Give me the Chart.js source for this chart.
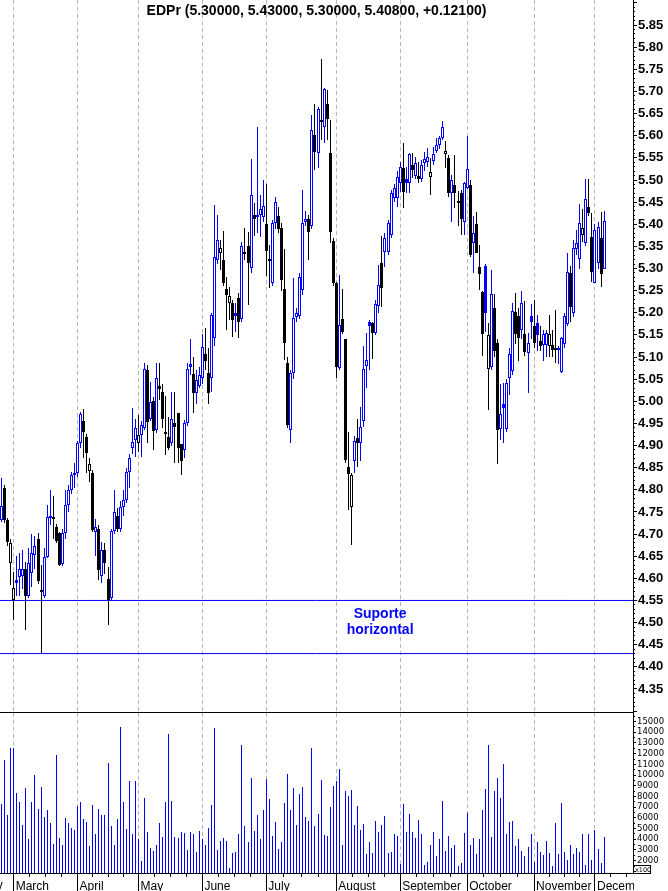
<!DOCTYPE html>
<html>
<head>
<meta charset="utf-8">
<title>EDPr</title>
<script src="https://cdn.jsdelivr.net/npm/chart.js@4.4.1/dist/chart.umd.min.js"></script>
<style>
  html, body { margin: 0; padding: 0; background: #fff; }
  canvas { display: block; }
</style>
</head>
<body>
<canvas id="priceChart" width="668" height="713"></canvas>
<canvas id="volumeChart" width="668" height="178"></canvas>
<script>
// daily EDPr quotes, end of February to start of December
const open = [
  4.732, 4.803, 4.732, 4.634, 4.551, 4.597, 4.604, 4.606, 4.620, 4.559,
  4.611, 4.653, 4.690, 4.568, 4.559, 4.648, 4.736, 4.736, 4.715, 4.702,
  4.632, 4.703, 4.766, 4.799, 4.833, 4.837, 4.905, 4.956, 4.920, 4.843,
  4.837, 4.705, 4.711, 4.605, 4.664, 4.598, 4.555, 4.708, 4.741, 4.711,
  4.762, 4.777, 4.841, 4.894, 4.912, 4.905, 4.924, 4.939, 5.071, 4.961,
  5.001, 4.935, 5.034, 5.021, 4.926, 4.920, 4.905, 4.950, 4.973, 4.903,
  4.891, 4.952, 5.085, 5.062, 5.018, 5.035, 5.052, 5.107, 5.065, 5.052,
  5.142, 5.320, 5.336, 5.319, 5.253, 5.221, 5.221, 5.199, 5.233, 5.185,
  5.333, 5.350, 5.301, 5.421, 5.421, 5.421, 5.416, 5.400, 5.317, 5.268,
  5.403, 5.419, 5.391, 5.253, 5.086, 4.935, 5.065, 5.191, 5.193, 5.251,
  5.404, 5.413, 5.395, 5.602, 5.560, 5.634, 5.619, 5.672, 5.560, 5.363,
  5.268, 5.075, 5.185, 5.140, 4.851, 4.762, 4.864, 4.918, 4.905, 4.956,
  5.080, 5.180, 5.176, 5.155, 5.215, 5.312, 5.338, 5.338, 5.376, 5.459,
  5.459, 5.493, 5.526, 5.502, 5.493, 5.534, 5.508, 5.508, 5.502, 5.538,
  5.541, 5.506, 5.543, 5.566, 5.579, 5.596, 5.559, 5.549, 5.471, 5.489,
  5.449, 5.471, 5.404, 5.481, 5.489, 5.358, 5.401, 5.303, 5.248, 5.306,
  5.072, 5.078, 5.210, 5.131, 4.937, 4.994, 4.937, 5.052, 5.069, 5.201,
  5.193, 5.161, 5.152, 5.110, 5.193, 5.170, 5.176, 5.137, 5.127, 5.127,
  5.125, 5.127, 5.119, 5.117, 5.067, 5.129, 5.175, 5.291, 5.199, 5.344,
  5.321, 5.376, 5.358, 5.438, 5.372, 5.268, 5.313, 5.368, 5.300
];
const high = [
  4.826, 4.810, 4.736, 4.688, 4.615, 4.650, 4.657, 4.664, 4.636, 4.668,
  4.700, 4.695, 4.702, 4.630, 4.668, 4.766, 4.800, 4.785, 4.722, 4.705,
  4.712, 4.800, 4.812, 4.840, 4.860, 4.910, 4.975, 4.982, 4.925, 4.871,
  4.845, 4.735, 4.720, 4.682, 4.680, 4.625, 4.712, 4.799, 4.760, 4.775,
  4.800, 4.850, 4.880, 4.984, 4.960, 4.969, 4.955, 5.086, 5.082, 5.044,
  5.010, 5.086, 5.087, 5.040, 5.012, 4.965, 5.022, 5.022, 4.973, 4.903,
  4.958, 5.086, 5.140, 5.101, 5.070, 5.078, 5.152, 5.165, 5.120, 5.199,
  5.444, 5.421, 5.364, 5.385, 5.281, 5.259, 5.229, 5.221, 5.244, 5.360,
  5.391, 5.383, 5.547, 5.449, 5.620, 5.466, 5.500, 5.492, 5.353, 5.410,
  5.462, 5.440, 5.402, 5.345, 5.100, 5.070, 5.278, 5.210, 5.290, 5.477,
  5.430, 5.420, 5.647, 5.671, 5.665, 5.773, 5.707, 5.703, 5.636, 5.370,
  5.270, 5.285, 5.253, 5.140, 4.930, 4.838, 4.922, 4.961, 4.988, 5.125,
  5.154, 5.184, 5.180, 5.230, 5.307, 5.373, 5.380, 5.410, 5.478, 5.490,
  5.520, 5.541, 5.583, 5.530, 5.560, 5.562, 5.551, 5.541, 5.546, 5.564,
  5.572, 5.549, 5.575, 5.594, 5.600, 5.634, 5.587, 5.557, 5.511, 5.557,
  5.476, 5.477, 5.496, 5.599, 5.500, 5.419, 5.428, 5.353, 5.250, 5.310,
  5.178, 5.297, 5.242, 5.140, 5.039, 5.042, 5.050, 5.120, 5.221, 5.244,
  5.210, 5.249, 5.227, 5.155, 5.220, 5.230, 5.195, 5.170, 5.160, 5.160,
  5.196, 5.160, 5.206, 5.125, 5.145, 5.200, 5.335, 5.306, 5.365, 5.387,
  5.446, 5.434, 5.502, 5.502, 5.426, 5.400, 5.405, 5.428, 5.430
];
const low = [
  4.728, 4.725, 4.673, 4.585, 4.506, 4.560, 4.560, 4.575, 4.483, 4.555,
  4.580, 4.620, 4.588, 4.432, 4.555, 4.645, 4.720, 4.690, 4.680, 4.627,
  4.628, 4.690, 4.750, 4.790, 4.803, 4.830, 4.895, 4.871, 4.837, 4.818,
  4.705, 4.650, 4.597, 4.590, 4.610, 4.495, 4.550, 4.700, 4.705, 4.705,
  4.740, 4.770, 4.805, 4.880, 4.875, 4.886, 4.875, 4.935, 4.905, 4.955,
  4.890, 4.929, 5.003, 4.939, 4.878, 4.890, 4.900, 4.860, 4.860, 4.833,
  4.871, 4.945, 5.059, 4.974, 4.995, 5.030, 5.040, 5.070, 4.995, 5.022,
  5.124, 5.310, 5.296, 5.260, 5.161, 5.184, 5.146, 5.157, 5.142, 5.180,
  5.320, 5.218, 5.290, 5.374, 5.380, 5.372, 5.406, 5.283, 5.255, 5.260,
  5.390, 5.380, 5.250, 5.093, 4.940, 4.905, 5.050, 5.180, 5.185, 5.240,
  5.395, 5.320, 5.390, 5.522, 5.526, 5.590, 5.583, 5.590, 5.357, 5.260,
  5.052, 5.070, 5.152, 4.860, 4.754, 4.676, 4.837, 4.851, 4.864, 4.943,
  5.030, 5.070, 5.095, 5.150, 5.200, 5.214, 5.303, 5.330, 5.370, 5.450,
  5.440, 5.472, 5.436, 5.470, 5.470, 5.504, 5.502, 5.494, 5.495, 5.520,
  5.530, 5.466, 5.535, 5.560, 5.570, 5.590, 5.527, 5.462, 5.404, 5.436,
  5.396, 5.376, 5.376, 5.479, 5.325, 5.291, 5.334, 5.252, 5.102, 5.157,
  4.981, 5.070, 5.100, 4.858, 4.913, 4.905, 4.930, 5.014, 5.060, 5.130,
  5.092, 5.140, 5.102, 5.018, 5.140, 5.120, 5.114, 5.114, 5.090, 5.100,
  5.100, 5.100, 5.086, 5.085, 5.065, 5.120, 5.170, 5.180, 5.190, 5.330,
  5.300, 5.360, 5.350, 5.418, 5.270, 5.268, 5.300, 5.259, 5.300
];
const close = [
  4.764, 4.732, 4.683, 4.680, 4.578, 4.590, 4.620, 4.622, 4.560, 4.634,
  4.657, 4.673, 4.593, 4.572, 4.648, 4.738, 4.741, 4.733, 4.685, 4.630,
  4.703, 4.766, 4.799, 4.833, 4.837, 4.905, 4.971, 4.931, 4.884, 4.858,
  4.709, 4.715, 4.619, 4.664, 4.634, 4.551, 4.708, 4.751, 4.711, 4.762,
  4.777, 4.841, 4.871, 4.909, 4.939, 4.924, 4.946, 5.072, 4.954, 4.999,
  4.933, 5.052, 5.027, 4.961, 4.928, 4.894, 4.959, 4.943, 4.894, 4.866,
  4.952, 5.074, 5.078, 5.018, 5.048, 5.059, 5.122, 5.092, 5.018, 5.195,
  5.327, 5.364, 5.346, 5.268, 5.240, 5.238, 5.184, 5.192, 5.180, 5.351,
  5.337, 5.313, 5.465, 5.413, 5.416, 5.434, 5.441, 5.340, 5.319, 5.403,
  5.451, 5.389, 5.273, 5.132, 4.946, 5.065, 5.188, 5.200, 5.281, 5.402,
  5.411, 5.383, 5.613, 5.564, 5.661, 5.630, 5.705, 5.637, 5.382, 5.268,
  5.078, 5.172, 5.157, 4.867, 4.836, 4.834, 4.911, 4.905, 4.941, 5.072,
  5.093, 5.170, 5.155, 5.220, 5.262, 5.257, 5.368, 5.402, 5.470, 5.481,
  5.507, 5.529, 5.474, 5.493, 5.559, 5.523, 5.538, 5.502, 5.534, 5.547,
  5.551, 5.518, 5.559, 5.578, 5.594, 5.619, 5.566, 5.471, 5.501, 5.471,
  5.448, 5.413, 5.493, 5.524, 5.330, 5.381, 5.336, 5.288, 5.152, 5.200,
  5.150, 5.242, 5.114, 4.935, 4.971, 4.984, 5.042, 5.107, 5.205, 5.152,
  5.142, 5.221, 5.112, 5.131, 5.180, 5.132, 5.150, 5.124, 5.152, 5.154,
  5.152, 5.117, 5.116, 5.121, 5.142, 5.193, 5.293, 5.214, 5.346, 5.357,
  5.402, 5.391, 5.456, 5.425, 5.293, 5.386, 5.393, 5.287, 5.408
];
// volume in hundreds of shares
const volume = [
  7300, 11400, 6300, 12500, 12500, 8300, 7500, 5300, 8800, 4000,
  7500, 10000, 6800, 8900, 6100, 6700, 5500, 3600, 11900, 4100,
  3500, 6000, 5500, 5100, 4900, 7100, 7500, 5900, 5600, 3400,
  7200, 4500, 6800, 6300, 6300, 11100, 5200, 3500, 5900, 14500,
  7500, 5000, 9400, 4500, 9400, 4000, 2000, 7900, 4700, 3200,
  2900, 3500, 5500, 4200, 7500, 13800, 7600, 4200, 4100, 4700,
  4600, 3000, 4700, 4500, 2800, 4800, 4000, 3500, 5100, 7200,
  14400, 3000, 3800, 4100, 3800, 1300, 2700, 2800, 4500, 12800,
  5200, 3700, 9700, 4800, 6300, 4000, 6700, 9600, 7800, 4300,
  5600, 3100, 3700, 7400, 10100, 6700, 8800, 5300, 8200, 8900,
  6100, 5700, 12500, 5200, 6400, 9500, 4400, 4300, 7000, 9000,
  9400, 10600, 3500, 8500, 8000, 8600, 5300, 7100, 4900, 5400,
  2600, 3700, 2700, 5700, 4700, 5300, 6200, 2700, 2800, 4500,
  4300, 1700, 7300, 4700, 6400, 4700, 4100, 5800, 4500, 1600,
  1900, 3500, 4700, 2400, 4000, 7600, 2900, 4300, 3200, 3500,
  1500, 1800, 4600, 6500, 3500, 4100, 2600, 4000, 6700, 8700,
  12800, 4200, 8500, 9700, 7900, 11000, 4500, 5600, 5700, 3400,
  4000, 2900, 2400, 3300, 4500, 1900, 3700, 2800, 2500, 3800,
  2700, 1500, 5500, 2600, 7400, 2800, 2100, 3500, 2600, 3200,
  2800, 4500, 1600, 4500, 2100, 4900, 3100, 1800, 4200
];

const monthNames = ['February', 'March', 'April', 'May', 'June', 'July', 'August', 'September', 'October', 'November', 'December', 'January'];
const monthStart = [-16, 4, 25, 45, 66, 87, 110, 131, 153, 175, 195, 216]; // index of each month's first session
const supportLevels = [4.55, 4.43];
const titleText = 'EDPr (5.30000, 5.43000, 5.30000, 5.40800, +0.12100)';
const noteLines = ['Suporte', 'horizontal'];
const notePos = { x: 124.4, y: [4.5104, 4.4743] };

const slots = 208;               // sessions that fit the time axis
const priceMin = 4.298, priceMax = 5.9067;
const volMin = 850, volMax = 15800;

const BLUE = '#0000ff', BLACK = '#000000', GRID = '#b8b8b8';
const FONT = '"Liberation Sans", Arial, sans-serif';
const MONTH_FONT = '12px ' + FONT;

const xIndex = open.map((_, i) => i);
// blue when the close is up on the day before, hollow when close above open
const candleColor = close.map((c, i) => (i === 0 || c > close[i - 1]) ? BLUE : BLACK);
const bodyFill = close.map((c, i) => (c > open[i] ? '#ffffff' : candleColor[i]));

// months that start inside the axis get a tick, the earlier one is only a cut-off label
const shownMonths = monthStart.filter(v => v >= 0 && v < slots);
// small marks at each quarter of a month on the time axis
const quarterMarks = [];
for (let k = 0; k < monthStart.length - 1; k++) {
  for (let q = 1; q < 4; q++) {
    const v = monthStart[k] + (monthStart[k + 1] - monthStart[k]) * q / 4;
    if (v > -0.5 && v < slots - 0.5) quarterMarks.push(v);
  }
}

const priceMinor = [], priceMajor = [];
for (let c = 430; c <= 590; c++) {
  priceMinor.push(c / 100);
  if (c % 5 === 0) priceMajor.push(c / 100);
}
const volMinor = [], volMajor = [];
for (let v = 1000; v <= 15500; v += 500) {
  volMinor.push(v);
  if (v % 1000 === 0) volMajor.push(v);
}

// no extra room around the axes: the plot fills the canvas up to the right axis
const noPadding = s => {
  s.paddingLeft = 0;
  s.paddingRight = 0;
  s.paddingTop = 0;
  s.paddingBottom = 0;
};

// put thin bars on whole pixels so they stay sharp
const snapBars = {
  id: 'snapBars',
  beforeDatasetsDraw(chart) {
    chart.data.datasets.forEach((ds, di) => {
      const meta = chart.getDatasetMeta(di);
      if (meta.type !== 'bar') return;
      meta.data.forEach(el => {
        el.x = Math.floor(el.x) + 0.5;
        el.y = Math.round(el.y);
        el.base = Math.round(el.base);
      });
    });
  }
};

const priceText = {
  id: 'priceText',
  afterDraw(chart) {
    const { ctx, chartArea, scales } = chart;
    ctx.save();
    ctx.font = 'bold 14px ' + FONT;
    ctx.textAlign = 'center';
    ctx.textBaseline = 'alphabetic';
    ctx.fillStyle = BLACK;
    ctx.fillText(titleText, (chartArea.left + chartArea.right) / 2, 15);
    ctx.fillStyle = BLUE;
    noteLines.forEach((t, k) => {
      ctx.fillText(t, scales.x.getPixelForValue(notePos.x), scales.y.getPixelForValue(notePos.y[k]));
    });
    ctx.restore();
  }
};

// month labels stop at the price axis, then the x100 unit box
const volumeFrame = {
  id: 'volumeFrame',
  beforeDraw(chart) {
    const { ctx, chartArea: a, width, height } = chart;
    ctx.save();
    ctx.beginPath();
    ctx.rect(0, 0, a.right + 1, height);
    ctx.rect(a.right + 1, 0, width - a.right - 1, a.bottom + 1);
    ctx.clip();
  },
  afterDraw(chart) {
    const { ctx, chartArea: a, scales } = chart;
    // label of the month that began before the first session
    ctx.font = MONTH_FONT;
    ctx.fillStyle = BLACK;
    ctx.textAlign = 'left';
    ctx.textBaseline = 'middle';
    monthStart.forEach((v, k) => {
      if (v < 0) ctx.fillText(monthNames[k], scales.x.getPixelForValue(v) + 2, a.bottom + 13);
    });
    ctx.restore();
    ctx.save();
    ctx.strokeStyle = BLACK;
    ctx.lineWidth = 1;
    ctx.strokeRect(a.right + 0.5, a.bottom - 7.5, 17, 8);
    ctx.fillStyle = BLACK;
    ctx.font = '6.5px "DejaVu Sans"';
    ctx.textBaseline = 'alphabetic';
    ctx.fillText('x100', a.right + 2, a.bottom - 1);
    ctx.restore();
  }
};

const timeAxis = (withLabels) => ({
  type: 'linear',
  position: 'bottom',
  min: -0.5,
  max: slots - 0.5,
  offset: false,
  afterBuildTicks: s => { s.ticks = shownMonths.map(v => ({ value: v })); },
  afterFit: s => {
    // price panel: one pixel row left for the border that separates the panels
    s.height = withLabels ? 18 : 1;
    noPadding(s);
  },
  ticks: {
    display: withLabels,
    autoSkip: false,
    maxRotation: 0,
    minRotation: 0,
    align: 'start',
    labelOffset: 2,
    padding: -12,
    color: BLACK,
    font: { family: FONT, size: 12 },
    callback: v => monthNames[monthStart.indexOf(v)]
  },
  grid: { color: GRID, offset: false, drawTicks: withLabels, tickLength: 18, tickColor: BLACK },
  border: { color: BLACK, width: 1, dash: [4, 3] }
});

const valueAxis = (min, max, values, font, padding, label) => ({
  type: 'linear',
  position: 'right',
  min,
  max,
  offset: false,
  afterBuildTicks: s => { s.ticks = values.map(v => ({ value: v })); },
  afterFit: s => {
    s.width = 35;
    noPadding(s);
  },
  ticks: { autoSkip: false, padding, color: BLACK, font, callback: label },
  grid: { drawOnChartArea: false, tickLength: 2, tickColor: BLACK },
  border: { color: BLACK, width: 1 }
});

// an axis that only draws tick marks (no labels, no space taken)
const markAxis = (position, min, max, values, length) => ({
  type: 'linear',
  position,
  weight: -1,
  min,
  max,
  offset: false,
  afterBuildTicks: s => { s.ticks = values.map(v => ({ value: v })); },
  afterFit: s => {
    if (s.isHorizontal()) s.height = 0; else s.width = 0;
    noPadding(s);
  },
  ticks: { display: false },
  grid: { drawOnChartArea: false, offset: false, tickLength: length, tickColor: BLACK },
  border: { display: false }
});

new Chart(document.getElementById('priceChart'), {
  type: 'bar',
  data: {
    datasets: [
      {
        label: 'body',
        order: 0,
        xAxisID: 'x',
        yAxisID: 'y',
        data: xIndex.map(i => ({ x: i, y: [open[i], close[i]] })),
        backgroundColor: bodyFill,
        borderColor: candleColor,
        borderWidth: 1,
        borderSkipped: false,
        barThickness: 3,
        minBarLength: 2,
        grouped: false,
        inflateAmount: 0
      },
      {
        label: 'range',
        order: 1,
        xAxisID: 'x',
        yAxisID: 'y',
        data: xIndex.map(i => ({ x: i, y: [low[i], high[i]] })),
        backgroundColor: candleColor,
        borderWidth: 0,
        barThickness: 1,
        minBarLength: 1,
        grouped: false,
        inflateAmount: 0
      },
      ...supportLevels.map(level => ({
        type: 'line',
        order: 2,
        xAxisID: 'x',
        yAxisID: 'y',
        data: [{ x: -0.5, y: level }, { x: slots - 0.5, y: level }],
        borderColor: BLUE,
        borderWidth: 1,
        pointRadius: 0
      }))
    ]
  },
  options: {
    responsive: false,
    animation: false,
    events: [],
    layout: { padding: 0, autoPadding: false },
    plugins: { legend: { display: false }, tooltip: { enabled: false } },
    scales: {
      x: timeAxis(false),
      y: valueAxis(priceMin, priceMax, priceMinor, { family: FONT, size: 13, weight: 'bold' }, 3, v => {
        const c = Math.round(v * 100);
        return (c % 5 === 0 && c >= 435 && c <= 585) ? (c / 100).toFixed(2) : '';
      }),
      yMajor: markAxis('right', priceMin, priceMax, priceMajor, 4)
    }
  },
  plugins: [snapBars, priceText]
});

new Chart(document.getElementById('volumeChart'), {
  type: 'bar',
  data: {
    datasets: [{
      label: 'volume',
      xAxisID: 'x',
      yAxisID: 'y',
      data: xIndex.map(i => ({ x: i, y: volume[i] })),
      backgroundColor: BLUE,
      barThickness: 1,
      grouped: false,
      inflateAmount: 0
    }]
  },
  options: {
    responsive: false,
    animation: false,
    events: [],
    layout: { padding: 0, autoPadding: false },
    plugins: { legend: { display: false }, tooltip: { enabled: false } },
    scales: {
      x: timeAxis(true),
      y: valueAxis(volMin, volMax, volMinor, { family: 'DejaVu Sans', size: 8.5 }, 2,
        v => (v % 1000 === 0 && v >= 2000 && v <= 15000) ? String(v) : ''),
      xWeek: markAxis('bottom', -0.5, slots - 0.5, quarterMarks, 4),
      yMajor: markAxis('right', volMin, volMax, volMajor, 3)
    }
  },
  plugins: [snapBars, volumeFrame]
});
</script>
</body>
</html>
